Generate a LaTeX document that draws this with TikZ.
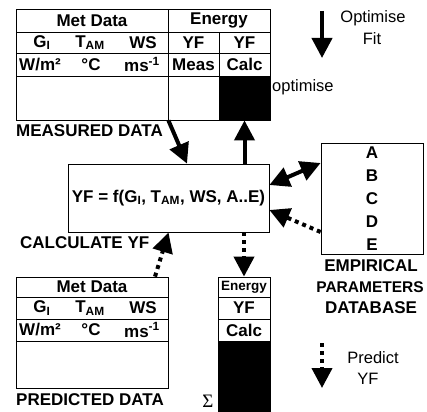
\documentclass[tikz,border=0pt]{standalone}
\usepackage{fontspec}
\setmainfont{Liberation Sans}
\newfontfamily\sigmafont{Liberation Serif}
\usetikzlibrary{arrows.meta}

\tikzset{
	lbl/.style={font=\fontsize{17}{19}\selectfont\bfseries, inner sep=0pt},
	txt/.style={font=\fontsize{16.5}{18}\selectfont, inner sep=0pt},
	cell/.style={draw=black, line width=0.8pt, inner sep=0pt},
	blackcell/.style={cell, fill=black},
	bigarrow/.style={line width=4pt, -{Triangle[width=20pt,length=20pt]}},
	dotarrow/.style={bigarrow, dash pattern=on 4pt off 4pt},
	botharrow/.style={line width=4pt, {Triangle[width=20pt,length=20pt]}-{Triangle[width=20pt,length=20pt]}}
}

\begin{document}
\begin{tikzpicture}[x=1pt,y=-1pt]
	\useasboundingbox (0,0) rectangle (427,411);
	% measured data table
	\node [cell,lbl,minimum width=152,minimum height=23] (TM1) at (92,20.5) {Met Data};
	\node [cell,lbl,minimum width=102,minimum height=23] (TE1) at (219,20.5) {Energy};
	\node [cell,minimum width=152,minimum height=21] (TM2) at (92,42.5) {};
	\node [cell,lbl,minimum width=51,minimum height=21] (TY1) at (193.5,42.5) {YF};
	\node [cell,lbl,minimum width=51,minimum height=21] (TY2) at (244.5,42.5) {YF};
	\node [cell,minimum width=152,minimum height=23] (TM3) at (92,64.5) {};
	\node [cell,lbl,minimum width=51,minimum height=23] (TMe) at (193.5,64.5) {Meas};
	\node [cell,lbl,minimum width=51,minimum height=23] (TCa) at (244.5,64.5) {Calc};
	\node [cell,minimum width=152,minimum height=44] (TM4) at (92,98) {};
	\node [cell,minimum width=51,minimum height=44] (TEm) at (193.5,98) {};
	\node [blackcell,minimum width=51,minimum height=44] (TBl) at (244.5,98) {};
	\node [lbl] (TG) at (42,42.5) {G\textsubscript{I}};
	\node [lbl] (TT) at (90,42.5) {T\textsubscript{AM}};
	\node [lbl] (TW) at (143,42.5) {WS};
	\node [lbl] (TU1) at (40,64.5) {W/m²};
	\node [lbl] (TU2) at (91,64.5) {°C};
	\node [lbl] (TU3) at (142,64.5) {ms\textsuperscript{-1}};
	\node [lbl,anchor=west] (measured) at (16,131) {MEASURED DATA};
	\node [txt,anchor=west] (opt) at (272,87) {optimise};

	% model box
	\node [cell,lbl,minimum width=201,minimum height=68] (calc) at (168.5,198) {YF = f(G\textsubscript{I}, T\textsubscript{AM}, WS, A..E)};
	\node [lbl,anchor=west] (calclbl) at (20,243) {CALCULATE YF};

	% parameter database
	\node [cell,minimum width=102,minimum height=111] (emp) at (372,198.5) {};
	\foreach \p [count=\i] in {A,B,C,D,E}
		\node [lbl] (emp\p) at (372,130+23*\i) {\p};
	\node [lbl] (empA1) at (371,266) {EMPIRICAL};
	\node [lbl,font=\fontsize{15.5}{17}\selectfont\bfseries] (empA2) at (370,287) {PARAMETERS};
	\node [lbl] (empA3) at (371,308) {DATABASE};

	% predicted data table
	\node [cell,lbl,minimum width=152,minimum height=20] (PM1) at (92,287) {Met Data};
	\node [cell,minimum width=152,minimum height=22] (PM2) at (92,308) {};
	\node [cell,minimum width=152,minimum height=22] (PM3) at (92,330) {};
	\node [cell,minimum width=152,minimum height=47] (PM4) at (92,364.5) {};
	\node [lbl] (PG) at (42,308) {G\textsubscript{I}};
	\node [lbl] (PT) at (90,308) {T\textsubscript{AM}};
	\node [lbl] (PW) at (143,308) {WS};
	\node [lbl] (PU1) at (40,330) {W/m²};
	\node [lbl] (PU2) at (91,330) {°C};
	\node [lbl] (PU3) at (142,330) {ms\textsuperscript{-1}};
	\node [lbl,anchor=west] (predicted) at (16,400) {PREDICTED DATA};

	\node [cell,lbl,font=\fontsize{13.5}{15}\selectfont\bfseries,minimum width=52,minimum height=20] (PE1) at (244,287) {Energy};
	\node [cell,lbl,minimum width=52,minimum height=22] (PY) at (244,308) {YF};
	\node [cell,lbl,minimum width=52,minimum height=22] (PC) at (244,330) {Calc};
	\node [blackcell,minimum width=52,minimum height=72] (PBl) at (244,377) {};
	\node [inner sep=0pt,font=\fontsize{19}{20}\selectfont\sigmafont] (sum) at (208,401) {Σ};

	% connectors
	\draw [bigarrow] (TM4.south east) -- ([xshift=18.5pt]calc.north);
	\draw [bigarrow] (calc.north -| TBl.south) -- (TBl.south);
	\draw [botharrow] ([yshift=13pt]calc.east) -- ([yshift=35.5pt]emp.west);
	\draw [dotarrow] ([yshift=-33.5pt]emp.west) -- ([yshift=-12pt]calc.east);
	\draw [dotarrow] ([xshift=63pt]PM1.north) -- (calc.south);
	\draw [dotarrow] (calc.south -| PE1.north) -- (PE1.north);

	% legend
	\coordinate (F1) at (322,11);
	\coordinate (F2) at (322,58);
	\draw [bigarrow] (F1) -- (F2);
	\node [txt] (fitA) at (373,18) {Optimise};
	\node [txt] (fitB) at (372,39) {Fit};
	\coordinate (P1) at (322,343);
	\coordinate (P2) at (322,388);
	\draw [dotarrow] (P1) -- (P2);
	\node [txt] (preA) at (373,358) {Predict};
	\node [txt] (preB) at (368,379) {YF};
\end{tikzpicture}
\end{document}
